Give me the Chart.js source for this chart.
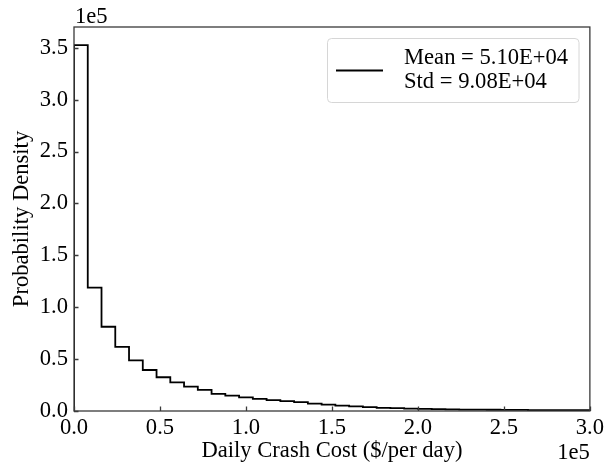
<!DOCTYPE html>
<html>
<head>
<meta charset="utf-8">
<script src="https://cdn.jsdelivr.net/npm/chart.js@4.4.1/dist/chart.umd.min.js"></script>
<style>
  html, body { margin: 0; padding: 0; background: #fff; }
  #wrap { width: 608px; height: 467px; }
</style>
</head>
<body>
<div id="wrap"><canvas id="costChart" width="608" height="467"></canvas></div>
<script>
// Histograma (tipo "step") del coste diario por accidentes
const binWidth = 8000;
const density = [
    3.526e5, 1.188e5, 0.812e5, 0.617e5, 0.487e5, 0.395e5, 0.325e5, 0.276e5,
    0.234e5, 0.204e5, 0.165e5, 0.148e5, 0.132e5, 0.116e5, 0.105e5, 0.095e5,
    0.085e5, 0.072e5, 0.062e5, 0.052e5, 0.044e5, 0.037e5, 0.031e5, 0.027e5,
    0.023e5, 0.020e5, 0.018e5, 0.016e5, 0.014e5, 0.013e5, 0.012e5, 0.011e5,
    0.010e5, 0.009e5, 0.008e5, 0.008e5, 0.007e5, 0.007e5
];
const xTicks = [0, 0.5e5, 1.0e5, 1.5e5, 2.0e5, 2.5e5, 3.0e5];
const yTicks = [0, 0.5e5, 1.0e5, 1.5e5, 2.0e5, 2.5e5, 3.0e5, 3.5e5];
const legendLines = ['Mean = 5.10E+04', 'Std = 9.08E+04'];

const FONT = 'Liberation Serif';
const FSIZE = 22.6;

// puntos del escalón: borde derecho de cada intervalo con su densidad
const stepPoints = [{ x: 0, y: 0 }];
density.forEach(function (v, i) {
    stepPoints.push({ x: (i + 1) * binWidth, y: v });
});

// marco, marcas hacia dentro, leyenda y multiplicadores 1e5
const decorPlugin = {
    id: 'decor',
    afterDraw: function (chart) {
        const ctx = chart.ctx;
        const a = chart.chartArea;
        const xs = chart.scales.x;
        const ys = chart.scales.y;
        ctx.save();
        ctx.strokeStyle = '#3a3a3a';
        ctx.lineWidth = 1.3;
        ctx.strokeRect(a.left, a.top, a.right - a.left, a.bottom - a.top);

        ctx.beginPath();
        xTicks.forEach(function (t) {
            const px = Math.round(xs.getPixelForValue(t)) + 0.5;
            ctx.moveTo(px, a.bottom);
            ctx.lineTo(px, a.bottom - 4.5);
        });
        yTicks.forEach(function (t) {
            const py = Math.round(ys.getPixelForValue(t)) + 0.5;
            ctx.moveTo(a.left, py);
            ctx.lineTo(a.left + 4.5, py);
        });
        ctx.stroke();

        // multiplicadores de los ejes
        ctx.fillStyle = '#000';
        ctx.font = FSIZE + 'px "' + FONT + '"';
        ctx.textBaseline = 'alphabetic';
        ctx.textAlign = 'left';
        ctx.fillText('1e5', a.left + 1, 23);
        ctx.textAlign = 'right';
        ctx.fillText('1e5', a.right, 459);

        // leyenda
        const bx = 327.5, by = 38.5, bw = 251.5, bh = 64;
        ctx.beginPath();
        ctx.roundRect(bx, by, bw, bh, 4);
        ctx.fillStyle = 'rgba(255,255,255,0.8)';
        ctx.fill();
        ctx.strokeStyle = '#d6d6d6';
        ctx.lineWidth = 1;
        ctx.stroke();

        ctx.beginPath();
        ctx.strokeStyle = '#000';
        ctx.lineWidth = 2;
        ctx.moveTo(336, 70.5);
        ctx.lineTo(383, 70.5);
        ctx.stroke();

        ctx.fillStyle = '#000';
        ctx.textAlign = 'left';
        legendLines.forEach(function (txt, i) {
            ctx.fillText(txt, 404, 64 + i * 24);
        });
        ctx.restore();
    }
};

new Chart(document.getElementById('costChart').getContext('2d'), {
    type: 'line',
    data: {
        datasets: [
            {
                label: 'density',
                data: stepPoints,
                stepped: 'after',
                borderColor: '#000',
                borderWidth: 1.8,
                pointRadius: 0,
                fill: false
            }
        ]
    },
    options: {
        responsive: false,
        animation: false,
        layout: { padding: { top: 27, right: 17, left: 0, bottom: 0 } },
        plugins: {
            legend: { display: false },
            tooltip: { enabled: false }
        },
        scales: {
            x: {
                type: 'linear',
                min: 0,
                max: 3.0e5,
                afterFit: function (scale) { scale.height = 56; },
                afterBuildTicks: function (scale) {
                    scale.ticks = xTicks.map(function (v) { return { value: v }; });
                },
                grid: { display: false, drawTicks: false },
                border: { display: false },
                ticks: {
                    padding: 4,
                    color: '#000',
                    font: { family: FONT, size: FSIZE },
                    maxRotation: 0,
                    callback: function (v) { return (v / 1e5).toFixed(1); }
                },
                title: {
                    display: true,
                    text: 'Daily Crash Cost ($/per day)',
                    color: '#000',
                    font: { family: FONT, size: FSIZE },
                    padding: { top: 0, bottom: 2 }
                }
            },
            y: {
                type: 'linear',
                min: 0,
                max: 3.70e5,
                afterFit: function (scale) { scale.width = 74; },
                afterBuildTicks: function (scale) {
                    scale.ticks = yTicks.map(function (v) { return { value: v }; });
                },
                grid: { display: false, drawTicks: false },
                border: { display: false },
                ticks: {
                    padding: 6,
                    color: '#000',
                    font: { family: FONT, size: FSIZE },
                    callback: function (v) { return (v / 1e5).toFixed(1); }
                },
                title: {
                    display: true,
                    text: 'Probability Density',
                    color: '#000',
                    font: { family: FONT, size: FSIZE },
                    padding: { top: 9, bottom: 0 }
                }
            }
        }
    },
    plugins: [decorPlugin]
});
</script>
</body>
</html>
